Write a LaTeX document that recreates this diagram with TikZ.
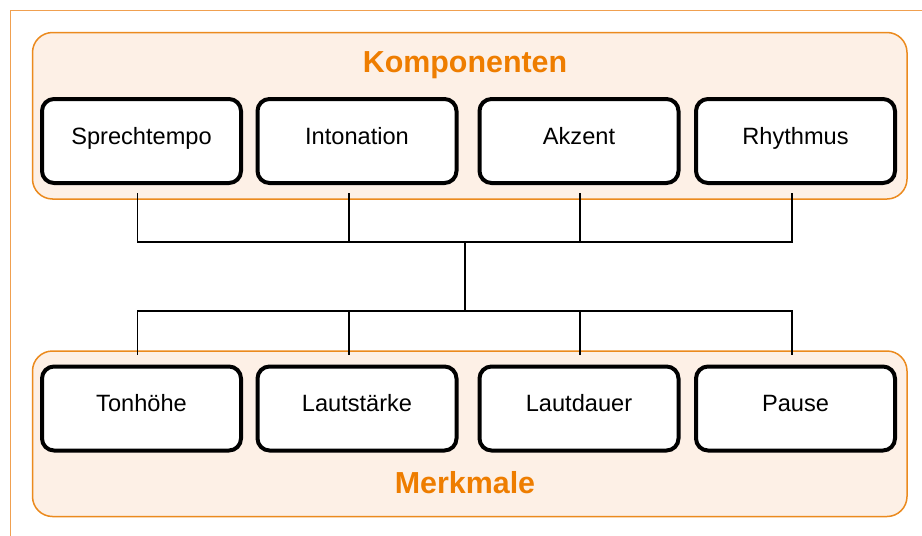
\documentclass[tikz,border=0pt]{standalone}
\usepackage{fontspec}
\setmainfont{Liberation Sans}
\usetikzlibrary{positioning}
\definecolor{orangeline}{HTML}{EB8A1E}
\definecolor{orangefill}{HTML}{FDF0E6}
\definecolor{orangetext}{HTML}{EE7D00}
\definecolor{frameline}{HTML}{F0A050}

\begin{document}
\begin{tikzpicture}[x=0.5pt, y=-0.5pt,
    group/.style={draw=orangeline, line width=0.75pt, fill=orangefill, rounded corners=10pt},
    feature/.style={draw, line width=2pt, fill=white, rounded corners=6pt,
        minimum width=99.5pt, minimum height=42pt, inner sep=0pt,
        text height=8.6pt, text depth=5.6pt, font=\fontsize{11.8}{14}\selectfont},
    heading/.style={text=orangetext, anchor=base, font=\fontsize{15.2}{18}\selectfont\bfseries},
    link/.style={line width=0.6pt}]
                        \useasboundingbox (0,0) rectangle (922,536);
                        \draw[frameline, line width=0.5pt] (10,10) rectangle (980,600);
                        % groups
                        \draw[group] (32.5,32.5) rectangle (907,199);
                        \draw[group] (32.5,351) rectangle (907,516.5);
                        \node[heading] (komp) at (465,72) {Komponenten};
                        \node[heading] (merk) at (465,493) {Merkmale};
                        % hub
                        \coordinate (hubtop) at (465,242);
                        \coordinate (hubbot) at (465,311);
                        \draw[link] (hubtop) -- (hubbot);
                        % components
                        \node[feature] (sprech) at (141.5,141) {Sprechtempo};
                        \node[feature] (inton) at (357,141) {Intonation};
                        \node[feature] (akzent) at (579,141) {Akzent};
                        \node[feature] (rhyth) at (795.5,141) {Rhythmus};
                        % features
                        \node[feature] (tonh) at (141.5,408.5) {Tonhöhe};
                        \node[feature] (laut) at (357,408.5) {Lautstärke};
                        \node[feature] (dauer) at (579,408.5) {Lautdauer};
                        \node[feature] (pause) at (795.5,408.5) {Pause};
                        \foreach \n/\dx in {sprech/-4, inton/-8, akzent/1, rhyth/-3.5}
                            \draw[link] ([shift={(\dx,8)}]\n.south) |- (hubtop);
                        \foreach \n/\dx in {tonh/-4, laut/-8, dauer/1, pause/-3.5}
                            \draw[link] ([shift={(\dx,-10)}]\n.north) |- (hubbot);
                    \end{tikzpicture}
\end{document}
